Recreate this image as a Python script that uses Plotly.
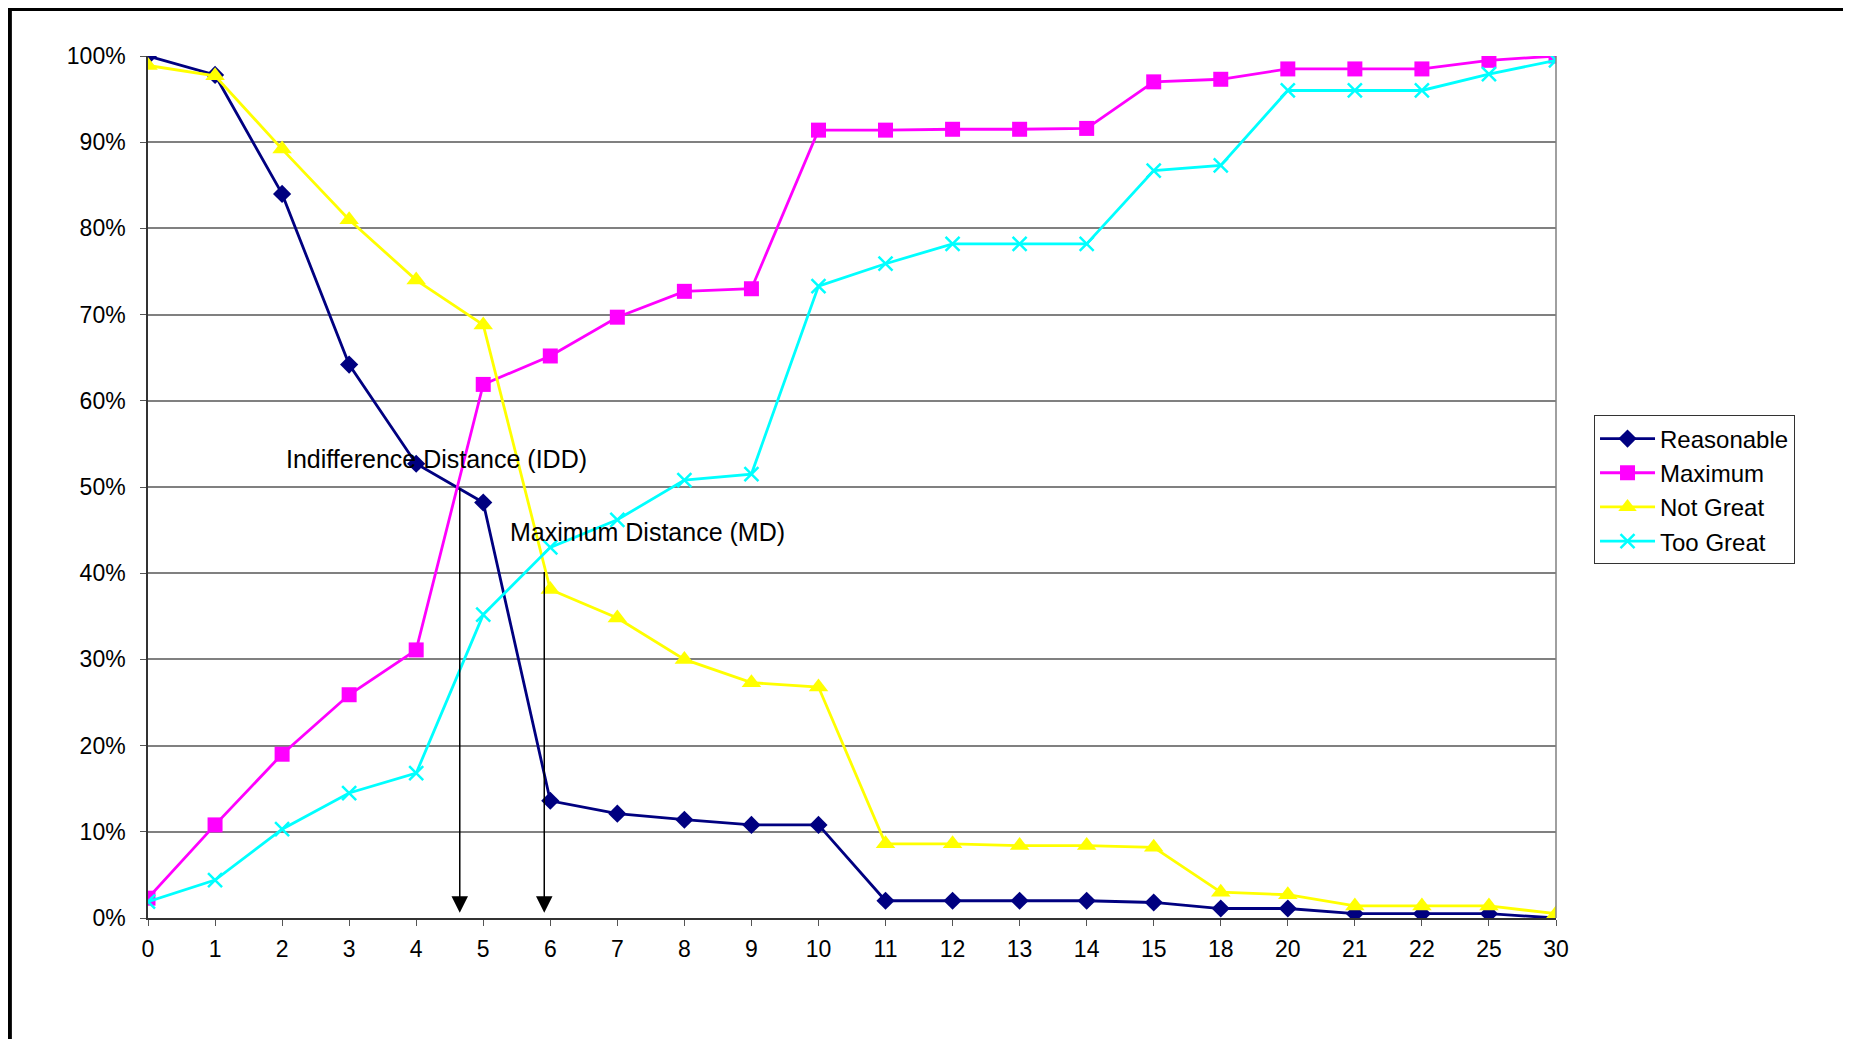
import plotly.graph_objects as go

categories = ["0", "1", "2", "3", "4", "5", "6", "7", "8", "9", "10", "11",
              "12", "13", "14", "15", "18", "20", "21", "22", "25", "30"]

reasonable = [100, 97.8, 84.0, 64.2, 52.7, 48.2, 13.6, 12.1, 11.4, 10.8, 10.8, 2.0,
              2.0, 2.0, 2.0, 1.8, 1.1, 1.1, 0.5, 0.5, 0.5, 0.0]
maximum = [2.3, 10.8, 19.0, 25.9, 31.1, 61.9, 65.2, 69.7, 72.7, 73.0, 91.4, 91.4,
           91.5, 91.5, 91.6, 97.0, 97.3, 98.5, 98.5, 98.5, 99.5, 100.0]
not_great = [98.9, 97.7, 89.2, 81.0, 74.0, 68.8, 38.1, 34.8, 30.0, 27.3, 26.8, 8.6,
             8.6, 8.4, 8.4, 8.2, 3.0, 2.7, 1.4, 1.4, 1.4, 0.5]
too_great = [1.9, 4.4, 10.3, 14.5, 16.8, 35.2, 43.0, 46.2, 50.8, 51.5, 73.3, 75.9,
             78.2, 78.2, 78.2, 86.7, 87.3, 96.0, 96.0, 96.0, 97.9, 99.5]

y_ticks = list(range(0, 101, 10))

idd_x, idd_y = 4.65, 50.0
md_x, md_y = 5.91, 40.3

FONT = "Liberation Sans, Arial, sans-serif"

fig = go.Figure()
series = [
    ("Reasonable", reasonable, "#000080", "diamond", 14),
    ("Maximum", maximum, "#FF00FF", "square", 15),
    ("Not Great", not_great, "#FFFF00", "triangle-up", 17),
    ("Too Great", too_great, "#00FFFF", "x-thin", 14),
]
for name, vals, color, sym, size in series:
    marker = dict(symbol=sym, size=size, color=color)
    if sym == "x-thin":
        marker["line"] = dict(color=color, width=2.5)
    fig.add_trace(go.Scatter(
        x=list(range(len(categories))), y=vals, name=name, mode="lines+markers",
        line=dict(color=color, width=2.8), marker=marker,
    ))

fig.update_xaxes(
    range=[0, len(categories) - 1], tickmode="array",
    tickvals=list(range(len(categories))), ticktext=categories,
    showgrid=False, zeroline=False, showline=True, linecolor="#333333", linewidth=2,
    ticks="outside", ticklen=6, tickcolor="#555555", ticklabelstandoff=3,
    tickfont=dict(family=FONT, size=23, color="black"),
)
fig.update_yaxes(
    range=[0, 100], tickvals=y_ticks, ticktext=[f"{v}%" for v in y_ticks],
    showgrid=True, gridcolor="#808080", gridwidth=1.5, zeroline=False,
    showline=True, linecolor="#333333", linewidth=1.5,
    ticks="outside", ticklen=6, tickcolor="#555555", ticklabelstandoff=10,
    tickfont=dict(family=FONT, size=23, color="black"),
)

# right plot-area border
fig.add_shape(type="line", xref="paper", yref="paper", x0=1, x1=1, y0=0, y1=1,
              line=dict(color="#808080", width=1.5))
# outer black frame
fig.add_shape(type="rect", xref="paper", yref="paper",
              x0=-0.0981, x1=1.2085, y0=-0.3, y1=1.0545,
              line=dict(color="black", width=4), layer="below")

# arrows
for xv, yv in [(idd_x, idd_y), (md_x, md_y)]:
    fig.add_annotation(x=xv, y=0.6, ax=xv, ay=yv, xref="x", yref="y",
                       axref="x", ayref="y", showarrow=True, arrowhead=2,
                       arrowsize=2.2, arrowwidth=1.5, arrowcolor="black", text="")

fig.add_annotation(x=4.30, y=53.3, xref="x", yref="y", showarrow=False,
                   text="Indifference Distance (IDD)",
                   font=dict(family=FONT, size=25, color="black"))
fig.add_annotation(x=7.45, y=44.8, xref="x", yref="y", showarrow=False,
                   text="Maximum Distance (MD)",
                   font=dict(family=FONT, size=25, color="black"))

fig.update_layout(
    width=1843, height=1031,
    margin=dict(l=140, r=295, t=48, b=121),
    paper_bgcolor="white", plot_bgcolor="white",
    showlegend=True,
    legend=dict(x=1.027, y=0.583, xanchor="left", yanchor="top",
                bordercolor="#333333", borderwidth=1, bgcolor="white",
                font=dict(family=FONT, size=24, color="black"),
                itemwidth=55, tracegroupgap=0),
)

fig.write_html("out.html")
